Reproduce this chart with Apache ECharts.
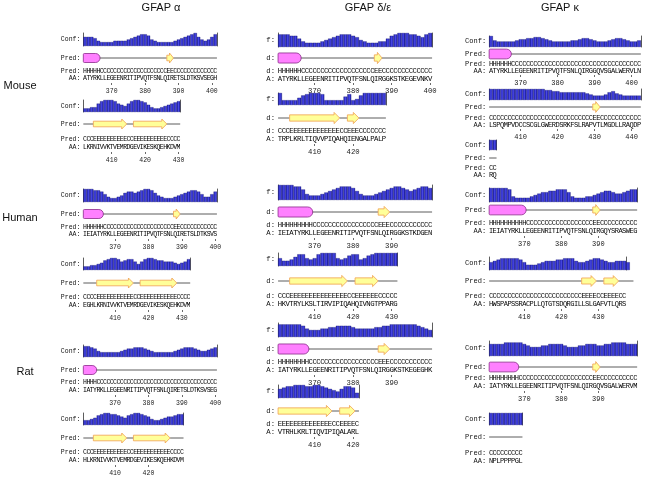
<!DOCTYPE html>
<html><head><meta charset="utf-8">
<script src="https://cdn.jsdelivr.net/npm/echarts@6/dist/echarts.min.js"></script>
<style>html,body{margin:0;padding:0;background:#fff}#c{width:661px;height:487px}</style>
</head><body><div id="c"></div>
<script>
// ---------------- DATA ----------------
const columnTitles = ['GFAP α', 'GFAP δ/ε', 'GFAP κ'];
const rowLabels = ['Mouse', 'Human', 'Rat'];

// GFAP alpha
const mouseAlphaStart = [362, 402];
const mouseAlphaAA = ['ATYRKLLEGEENRITIPVQTFSNLQIRETSLDTKSVSEGH', 'LKRNIVVKTVEMRDGEVIKESKQEHKDVM'];
const mouseAlphaPred = ['HHHHHCCCCCCCCCCCCCCCCCCCCEECCCCCCCCCCCCC', 'CCCEEEEEEEEEECCEEEEEEEEEECCCC'];
const mouseAlphaConf = [
  [6,6,6,5,3,2,2,2,2,3,3,3,3,4,5,6,7,8,8,7,4,3,2,2,2,2,2,3,4,5,6,7,8,9,6,4,3,4,6,8],
  [2,2,3,3,6,8,9,9,9,8,6,5,4,6,8,9,9,8,7,5,3,2,2,3,4,5,6,7,8]];
const mouseAlphaTicks = [[370, 380, 390, 400], [410, 420, 430]];

const humanAlphaStart = [361, 401];
const humanAlphaAA = ['IEIATYRKLLEGEENRITIPVQTFSNLQIRETSLDTKSVS', 'EGHLKRNIVVKTVEMRDGEVIKESKQEHKDVM'];
const humanAlphaPred = ['HHHHHHCCCCCCCCCCCCCCCCCCCCCEECCCCCCCCCCC', 'CCCCEEEEEEEEEEECCEEEEEEEEEEECCCC'];
const humanAlphaConf = [
  [9,9,9,8,8,7,5,3,2,2,3,4,6,7,7,6,7,8,9,9,8,6,4,3,2,2,2,3,4,5,6,7,8,8,7,5,3,3,5,7],
  [2,2,3,3,4,5,7,8,9,9,8,6,7,8,8,6,4,6,8,9,9,8,7,7,6,6,6,5,4,5,6,8]];
const humanAlphaTicks = [[370, 380, 390, 400], [410, 420, 430]];

const ratAlphaStart = [361, 401];
const ratAlphaAA = ['IATYRKLLEGEENRITIPVQTFSNLQIRETSLDTKSVSEG', 'HLKRNIVVKTVEMRDGEVIKESKQEHKDVM'];
const ratAlphaPred = ['HHHHCCCCCCCCCCCCCCCCCCCCCCCCCCCCCCCCCCCC', 'CCCEEEEEEEEEECCEEEEEEEEEEECCCC'];
const ratAlphaConf = [
  [8,8,7,6,4,3,3,3,3,3,3,4,5,6,6,7,7,7,6,5,4,3,3,3,3,3,3,4,5,6,7,7,7,6,5,4,4,5,6,7],
  [3,3,4,5,7,8,9,9,8,8,7,6,5,7,8,9,9,8,7,6,4,3,3,4,5,6,6,7,8,8]];
const ratAlphaTicks = [[370, 380, 390, 400], [410, 420]];

// GFAP delta/epsilon
const mouseDeltaStart = [361, 401];
const mouseDeltaAA = ['ATYRKLLEGEENRITIPVQTFSNLQIRGGKSTKEGEVNKV', 'TRPLKRLTIQVVPIQAHQIENGALPALP'];
const mouseDeltaPred = ['HHHHHHCCCCCCCCCCCCCCCCCCCEECCCCCCCCCCCCC', 'CCCEEEEEEEEEEEEECCEEECCCCCCC'];
const mouseDeltaConf = [
  [8,8,8,7,7,5,3,2,2,2,2,3,4,5,6,7,8,8,8,7,6,4,3,2,2,2,3,3,5,7,8,9,9,9,8,8,7,6,8,9],
  [9,3,3,3,3,5,7,8,9,9,9,8,3,3,3,3,3,6,8,3,4,7,9,9,9,9,9,9]];
const mouseDeltaTicks = [[370, 380, 390, 400], [410, 420]];

const humanDeltaStart = [361, 401];
const humanDeltaAA = ['IEIATYRKLLEGEENRITIPVQTFSNLQIRGGKSTKDGEN', 'HKVTRYLKSLTIRVIPIQAHQIVNGTPPARG'];
const humanDeltaPred = ['HHHHHHHHHCCCCCCCCCCCCCCCCCEEECCCCCCCCCCC', 'CCCEEEEEEEEEEEEEEECCEEEEEECCCCC'];
const humanDeltaConf = [
  [9,9,9,9,8,8,6,3,2,2,2,3,4,5,6,7,8,8,8,7,5,3,2,2,2,3,4,5,6,7,8,8,7,6,5,6,7,8,8,7],
  [5,3,3,4,6,8,8,5,4,5,8,9,9,9,9,5,4,5,7,8,8,4,5,7,8,9,9,9,9,9,9]];
const humanDeltaTicks = [[370, 380, 390], [410, 420, 430]];

const ratDeltaStart = [361, 401];
const ratDeltaAA = ['IATYRKLLEGEENRITIPVQTFSNLQIRGGKSTKEGEGHK', 'VTRHLKRLTIQVIPIQALARL'];
const ratDeltaPred = ['HHHHHHHHCCCCCCCCCCCCCCCCCCEEECCCCCCCCCCC', 'EEEEEEEEEEEEEECCEEEEC'];
const ratDeltaConf = [
  [8,8,8,8,8,8,7,5,4,4,4,5,5,6,6,7,7,7,7,6,5,5,5,5,5,6,6,7,7,8,8,8,8,8,8,8,7,6,5,4],
  [6,7,8,8,9,9,9,8,8,9,9,8,7,6,5,4,6,8,8,7,3]];
const ratDeltaTicks = [[370, 380, 390], [410, 420]];

// GFAP kappa
const mouseKappaStart = [362, 402, 442];
const mouseKappaAA = ['ATYRKLLEGEENRITIPVQTFSNLQIRGGQVSGALWERVLN', 'LSPQMPVDCCSCGLGWERDSRKFSLRAPVTLMGDLLRAQDP', 'RQ'];
const mouseKappaPred = ['HHHHHHCCCCCCCCCCCCCCCCCCCCCCCCCCCCCCCCCCC', 'CCCCCCCCCCCCCCCCCCCCCCCCCCCCEECCCCCCCCCCC', 'CC'];
const mouseKappaConf = [
  [9,5,4,4,4,4,4,5,6,6,7,7,8,8,7,6,5,4,4,4,4,4,5,5,6,7,7,6,5,4,4,4,5,6,7,7,6,5,4,4,5],
  [9,9,9,9,9,9,9,9,9,9,9,9,9,9,9,8,8,7,7,6,6,6,6,6,6,6,5,4,3,3,3,4,6,7,5,4,3,3,3,3,3],
  [9,9]];
const mouseKappaTicks = [[370, 380, 390, 400], [410, 420, 430, 440], []];

const humanKappaStart = [361, 401];
const humanKappaAA = ['IEIATYRKLLEGEENRITIPVQTFSNLQIRGQYSRASWEG', 'HWSPAPSSRACPLLQTGTSDQRGILLSLGAFVTLQRS'];
const humanKappaPred = ['HHHHHHHHHHCCCCCCCCCCCCCCCCCCEECCCCCCCCCC', 'CCCCCCCCCCCCCCCCCCCCCCCCCEEEECCEEEECCCC'];
const humanKappaConf = [
  [9,9,9,9,9,8,3,2,2,2,2,3,4,5,6,6,7,7,8,8,8,6,3,2,2,2,3,3,4,5,6,7,7,6,5,5,6,7,8,8],
  [5,6,7,8,8,8,8,8,7,5,3,3,3,4,5,6,6,6,7,7,8,8,8,6,5,5,6,7,8,8,7,6,5,5,6,6,6,5,5]];
const humanKappaTicks = [[370, 380, 390], [410, 420, 430]];

const ratKappaStart = [361, 401];
const ratKappaAA = ['IATYRKLLEGEENRITIPVQTFSNLQIRGQVSGALWERVM', 'NPLPPPPGL'];
const ratKappaPred = ['HHHHHHHHCCCCCCCCCCCCCCCCCCCCEECCCCCCCCCC', 'CCCCCCCCC'];
const ratKappaConf = [
  [7,7,7,7,8,8,8,8,8,7,6,5,5,5,6,6,7,7,7,7,6,5,5,5,6,6,7,7,7,6,6,7,7,8,8,8,8,7,7,7],
  [9,9,9,9,9,9,9,9,9]];
const ratKappaTicks = [[370, 380, 390], []];

// ---------------- LAYOUT (positions only) ----------------
const colX = [{x0: 85, w: 3.34, s: 1}, {x0: 280, w: 3.85, s: 1.12}, {x0: 491, w: 3.7, s: 1.08}];
// per segment: conf top, conf baseline, track centre, pred text, AA text, tick line
const layouts = {
  '0-0': [[33, 46, 58, 71, 78, 83], [100, 112, 124, 139, 147, 152]],
  '0-1': [[189, 202, 214, 227, 234, 239], [258, 270, 283, 297, 305, 310]],
  '0-2': [[345, 357, 370, 382, 390, 395], [413, 425, 438, 452, 460, 465]],
  '1-0': [[33, 47, 58, 71, 79, 83], [93, 105, 118, 131, 139, 144]],
  '1-1': [[185, 200, 212, 225, 233, 238], [253, 266, 281, 296, 304, 309]],
  '1-2': [[323, 337, 349, 362, 370, 375], [385, 398, 411, 424, 432, 437]],
  '2-0': [[36, 47, 54, 64, 71, 75], [89, 100, 107, 118, 125, 129], [140, 150, 158, 168, 175, 179]],
  '2-1': [[188, 202, 210, 223, 231, 236], [257, 270, 281, 296, 304, 309]],
  '2-2': [[341, 356, 367, 378, 386, 391], [413, 425, 437, 453, 461, 466]]
};

const panels = [
  [0, 0, mouseAlphaStart, mouseAlphaAA, mouseAlphaPred, mouseAlphaConf, mouseAlphaTicks],
  [0, 1, humanAlphaStart, humanAlphaAA, humanAlphaPred, humanAlphaConf, humanAlphaTicks],
  [0, 2, ratAlphaStart, ratAlphaAA, ratAlphaPred, ratAlphaConf, ratAlphaTicks],
  [1, 0, mouseDeltaStart, mouseDeltaAA, mouseDeltaPred, mouseDeltaConf, mouseDeltaTicks],
  [1, 1, humanDeltaStart, humanDeltaAA, humanDeltaPred, humanDeltaConf, humanDeltaTicks],
  [1, 2, ratDeltaStart, ratDeltaAA, ratDeltaPred, ratDeltaConf, ratDeltaTicks],
  [2, 0, mouseKappaStart, mouseKappaAA, mouseKappaPred, mouseKappaConf, mouseKappaTicks],
  [2, 1, humanKappaStart, humanKappaAA, humanKappaPred, humanKappaConf, humanKappaTicks],
  [2, 2, ratKappaStart, ratKappaAA, ratKappaPred, ratKappaConf, ratKappaTicks]
];

// ---------------- BUILD ----------------
const MONO = 'Liberation Mono';
const grid = [], xAxis = [], yAxis = [], series = [], graphic = [];

function runsOf(pred, start) {
  const out = [];
  let i = 0;
  while (i < pred.length) {
    let j = i;
    while (j + 1 < pred.length && pred[j + 1] === pred[i]) j++;
    out.push([start + i, start + j, pred[i] === 'H' ? 1 : pred[i] === 'E' ? 2 : 0, 8]);
    i = j + 1;
  }
  return out;
}

function addLabel(text, x, y, col, fs) {
  let t = text;
  if (col === 1) t = text.slice(-2);
  graphic.push({type: 'text', x: x, y: y,
    style: {text: t, fontSize: fs, fontFamily: MONO, fill: '#111', align: 'right', verticalAlign: 'middle'}});
}

panels.forEach(([col, row, starts, aas, preds, confs, ticks]) => {
  const lay = layouts[col + '-' + row];
  const cx = colX[col], sc = cx.s;
  const fs = 6.5 * sc;
  aas.forEach((aa, k) => {
    const [confTop, confBase, trackY, predY, aaY, tickY] = lay[k];
    const confH = confBase - confTop;
    const n = aa.length, start = starts[k];
    const left = cx.x0 - cx.w / 2, width = n * cx.w;
    const xmin = start - 0.5, xmax = start + n - 0.5;
    // confidence bars
    let g = grid.length;
    grid.push({left: left, top: confTop, width: width, height: confH});
    xAxis.push({type: 'value', gridIndex: g, min: xmin, max: xmax, show: false});
    const yi = yAxis.length;
    yAxis.push({type: 'value', gridIndex: g, min: 0, max: 10, position: 'left',
      axisLine: {show: true, lineStyle: {color: '#333', width: 0.8}}, axisTick: {show: false}, axisLabel: {show: false}, splitLine: {show: false}});
    yAxis.push({type: 'value', gridIndex: g, min: 0, max: 10, position: 'right',
      axisLine: {show: true, lineStyle: {color: '#333', width: 0.8}}, axisTick: {show: false}, axisLabel: {show: false}, splitLine: {show: false}});
    series.push({type: 'bar', xAxisIndex: g, yAxisIndex: yi, barWidth: cx.w, silent: true,
      data: confs[k].map((c, i) => [start + i, c + 1]),
      itemStyle: {color: new echarts.graphic.LinearGradient(0, 0, 1, 0, [{offset: 0, color: '#1a1aa0'}, {offset: 0.5, color: '#4848e8'}, {offset: 1, color: '#1a1aa0'}]),
        borderColor: '#10106a', borderWidth: 0.3}});
    // prediction track, text rows and residue ticks
    g = grid.length;
    const top = trackY - 8, h = tickY - top;
    grid.push({left: left, top: top, width: width, height: h});
    xAxis.push({type: 'value', gridIndex: g, min: xmin, max: xmax, position: 'bottom',
      axisLine: {show: false, onZero: false}, splitLine: {show: false},
      axisTick: {show: true, customValues: ticks[k], length: 2, lineStyle: {color: '#444', width: 0.8}},
      axisLabel: {show: true, customValues: ticks[k], margin: 5, fontSize: fs, fontFamily: MONO, color: '#222'}});
    const yt = yAxis.length;
    yAxis.push({type: 'value', gridIndex: g, min: 0, max: h, inverse: true, show: false});
    series.push({type: 'custom', xAxisIndex: g, yAxisIndex: yt, silent: true, clip: false,
      encode: {x: [0, 1], y: 3},
      data: runsOf(preds[k], start),
      renderItem: (params, api) => {
        const s = api.value(0), e = api.value(1), t = api.value(2), yo = api.value(3);
        const p0 = api.coord([s - 0.5, yo]), p1 = api.coord([e + 0.5, yo]);
        const y = p0[1];
        if (t === 0) return {type: 'line', shape: {x1: p0[0], y1: y, x2: p1[0], y2: y}, style: {stroke: '#333', lineWidth: 0.8}};
        const hh = 4.5 * sc;
        if (t === 1) return {type: 'rect', shape: {x: p0[0], y: y - hh, width: p1[0] - p0[0], height: 2 * hh, r: [1, hh, hh, 1]},
          style: {fill: '#ff80ff', stroke: '#8a2a8a', lineWidth: 0.8}};
        const x0 = p0[0], x1 = p1[0], hl = Math.min(5 * sc, (x1 - x0) * 0.6), bh = 2.8 * sc, ah = 5 * sc;
        return {type: 'polygon', shape: {points: [[x0, y - bh], [x1 - hl, y - bh], [x1 - hl, y - ah], [x1, y], [x1 - hl, y + ah], [x1 - hl, y + bh], [x0, y + bh]]},
          style: {fill: '#ffff99', stroke: '#f0a050', lineWidth: 0.8}};
      }});
    const chars = [], tdata = [];
    for (let i = 0; i < n; i++) {
      chars.push(preds[k][i]); tdata.push([start + i, predY - top]);
      chars.push(aa[i]); tdata.push([start + i, aaY - top]);
    }
    series.push({type: 'custom', xAxisIndex: g, yAxisIndex: yt, silent: true, clip: false,
      encode: {x: 0, y: 1}, data: tdata,
      renderItem: (params, api) => {
        const p = api.coord([api.value(0), api.value(1)]);
        return {type: 'text', x: p[0], y: p[1], style: {text: chars[params.dataIndex], fontSize: fs, fontFamily: MONO,
          fill: '#000', align: 'center', verticalAlign: 'middle'}};
      }});
    const lx = left - 3;
    addLabel('Conf:', lx, confBase - confH / 2, col, fs);
    addLabel('Pred:', lx, trackY, col, fs);
    addLabel('Pred:', lx, predY, col, fs);
    addLabel('AA:', lx, aaY, col, fs);
  });
});

const titleX = [161, 368, 560];
columnTitles.forEach((t, i) => graphic.push({type: 'text', x: titleX[i], y: 8,
  style: {text: t, fontSize: 11, fontFamily: 'Liberation Sans', fill: '#111', align: 'center', verticalAlign: 'middle'}}));
const rowY = [86, 218, 372], rowX = [20, 20, 25];
rowLabels.forEach((t, i) => graphic.push({type: 'text', x: rowX[i], y: rowY[i],
  style: {text: t, fontSize: 11, fontFamily: 'Liberation Sans', fill: '#111', align: 'center', verticalAlign: 'middle'}}));

const chart = echarts.init(document.getElementById('c'), null, {renderer: 'canvas'});
chart.setOption({animation: false, backgroundColor: '#fff', grid, xAxis, yAxis, series, graphic});
</script></body></html>
